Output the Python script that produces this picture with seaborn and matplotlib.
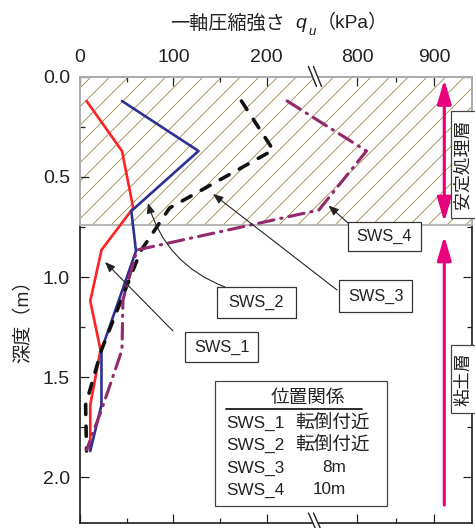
import numpy as np
import matplotlib
matplotlib.use("Agg")
import matplotlib.pyplot as plt
import matplotlib.transforms as mtransforms
from matplotlib.patches import Rectangle, FancyArrowPatch, Polygon
from matplotlib.lines import Line2D
import seaborn as sns

# ---------------- data ----------------
depth_sws1 = [0.12, 0.37, 0.655, 0.865, 1.12, 1.365, 1.64, 1.865]
qu_sws1 = [7, 45, 57, 23, 11, 22, 11, 11]
depth_sws2 = [0.12, 0.37, 0.67, 0.87, 1.365, 1.64, 1.87]
qu_sws2 = [45, 127, 55, 60, 23, 23, 11]
depth_sws3 = [0.12, 0.365, 0.655, 0.87, 1.365, 1.64, 1.87]
qu_sws3 = [173, 207, 96, 65, 23, 6, 7]
depth_sws4 = [0.12, 0.37, 0.665, 0.865, 1.115, 1.365, 1.665, 1.865]
qu_sws4 = [222, 812, 750, 61, 46, 45, 23, 7]

x_major = [0, 100, 200, 800, 900]
x_minor = [50, 150, 850]
x_labels = ["0", "100", "200", "800", "900"]
y_major = [0.0, 0.5, 1.0, 1.5, 2.0]
y_minor = [0.25, 0.75, 1.25, 1.75]
layer_bottom = 0.74

legend_rows = [("SWS_1", "転倒付近"), ("SWS_2", "転倒付近"), ("SWS_3", "8m"), ("SWS_4", "10m")]

# ---------------- style ----------------
sns.set_style("ticks")
FAM = ["Liberation Sans", "Noto Sans CJK JP"]
plt.rcParams["font.family"] = FAM
plt.rcParams["hatch.linewidth"] = 0.6
plt.rcParams["lines.scale_dashes"] = False
TXT = "#222222"

DPI = 112
W, H = 475, 528
fig = plt.figure(figsize=(W / DPI, H / DPI), dpi=DPI)
fig.patch.set_facecolor("white")


def F(px, py):
    return (px / W, 1 - py / H)


ax = fig.add_axes([80 / W, 1 - 523 / H, (472.3 - 80) / W, (523 - 77) / H])
ax.set_facecolor("white")

# broken x scale
L, R, GAP, RATIO = 250.0, 750.0, 6.0, 0.822


def fwd(q):
    q = np.asarray(q, dtype=float)
    return np.where(q <= L, q,
                    np.where(q >= R, L + GAP + (q - R) * RATIO,
                             L + (q - L) * GAP / (R - L)))


def inv(u):
    u = np.asarray(u, dtype=float)
    return np.where(u <= L, u,
                    np.where(u >= L + GAP, R + (u - L - GAP) / RATIO,
                             L + (u - L) * (R - L) / GAP))


ax.set_xscale("function", functions=(fwd, inv))
ax.set_xlim(0, 950)
ax.set_ylim(2.23, 0)

# hatched stabilised layer
blend = mtransforms.blended_transform_factory(ax.transAxes, ax.transData)
ax.add_patch(Rectangle((0, 0), 1, layer_bottom, transform=blend, facecolor="none",
                       edgecolor="#a8925a", hatch="//", lw=0, zorder=0.5))
ax.add_patch(Rectangle((0, 0), 1, layer_bottom, transform=blend, facecolor="none",
                       edgecolor="#b4b4b4", lw=1.2, zorder=2.6, clip_on=False))

# lines
sns.lineplot(x=qu_sws1, y=depth_sws1, sort=False, estimator=None, ax=ax,
             color="#ff2222", linewidth=1.7, zorder=4)
sns.lineplot(x=qu_sws2, y=depth_sws2, sort=False, estimator=None, ax=ax,
             color="#2e3192", linewidth=1.7, zorder=4)
sns.lineplot(x=qu_sws3, y=depth_sws3, sort=False, estimator=None, ax=ax,
             color="#111111", linewidth=2.3, zorder=5,
             linestyle=(0, (6.5, 7.5)), dash_capstyle="round")
sns.lineplot(x=qu_sws4, y=depth_sws4, sort=False, estimator=None, ax=ax,
             color="#922a6b", linewidth=2.0, zorder=5,
             linestyle=(0, (10, 4.5, 0.8, 4.5)), dash_capstyle="round")

# ticks
ax.set_xticks(x_major)
ax.set_xticklabels(x_labels)
ax.set_xticks(x_minor, minor=True)
ax.set_yticks(y_major)
ax.set_yticklabels([f"{v:.1f}" for v in y_major])
ax.set_yticks(y_minor, minor=True)
ax.tick_params(axis="both", which="both", direction="in", top=True, bottom=True,
               left=True, right=True, labeltop=True, labelbottom=False,
               colors="#222222", width=0.8)
ax.tick_params(axis="both", which="major", length=5.8)
ax.tick_params(axis="both", which="minor", length=3.2)
ax.tick_params(axis="x", which="major", labelsize=12.5, pad=7)
ax.tick_params(axis="y", which="major", labelsize=12.5, pad=6.4)
for lab in ax.get_xticklabels() + ax.get_yticklabels():
    lab.set_color(TXT)
for s in ax.spines.values():
    s.set_linewidth(1.1)
    s.set_color("#222222")
ax.set_xlabel("")
ax.set_ylabel("")

# break marks
for (y0, y1) in [(66.5, 86.5), (513, 531)]:
    poly = Polygon([F(308.5, y0), F(313.5, y0), F(321.5, y1), F(316.5, y1)],
                   closed=True, transform=fig.transFigure, facecolor="white",
                   edgecolor="none", zorder=10)
    fig.add_artist(poly)
    for dx in (0, 5):
        fig.add_artist(Line2D([F(308.5 + dx, y0)[0], F(316.5 + dx, y1)[0]],
                              [F(308.5 + dx, y0)[1], F(316.5 + dx, y1)[1]],
                              transform=fig.transFigure, color="#222222", lw=0.9, zorder=11))

# axis titles
fig.text(*F(170, 28.5), "一軸圧縮強さ", fontsize=12.3, color=TXT, ha="left", va="baseline",
         family=FAM)
fig.text(*F(295, 28.5), "q", fontsize=12.5, style="italic", color=TXT, ha="left",
         va="baseline", family=FAM)
fig.text(*F(308.5, 35), "u", fontsize=8.5, style="italic", color=TXT, ha="left",
         va="baseline", family=FAM)
fig.text(*F(316.5, 28.5), "（kPa）", fontsize=12.3, color=TXT, ha="left", va="baseline",
         family=FAM)
fig.text(*F(23, 317), "深度（m）", fontsize=12.3, color=TXT, ha="center", va="center",
         rotation=90, family=FAM)

# magenta layer arrows
MAG = "#e8007d"
fig.add_artist(FancyArrowPatch(F(444.3, 79.5), F(444.3, 222), transform=fig.transFigure,
                               arrowstyle="<|-|>,head_length=13,head_width=3.8",
                               mutation_scale=1, color=MAG, lw=2.0, shrinkA=0, shrinkB=0,
                               zorder=8))
fig.add_artist(FancyArrowPatch(F(444.3, 505), F(444.3, 236), transform=fig.transFigure,
                               arrowstyle="-|>,head_length=13,head_width=3.8",
                               mutation_scale=1, color=MAG, lw=2.0, shrinkA=0, shrinkB=0,
                               zorder=8))

# layer name boxes
for (x0, y0, x1, y1, txt) in [(450.7, 111, 480, 218, "安定処理層"), (450.7, 345, 480, 413, "粘土層")]:
    fig.add_artist(Rectangle(F(x0, y1), (x1 - x0) / W, (y1 - y0) / H, transform=fig.transFigure,
                             facecolor="white", edgecolor="#444444", lw=0.8, zorder=9))
    fig.text(*F(463.5, (y0 + y1) / 2), txt, fontsize=11.5, color=TXT, ha="center",
             va="center", rotation=90, family=FAM, zorder=10)

# SWS label boxes + leaders
boxes = [
    ("SWS_1", 185, 331.7, 258, 361.7),
    ("SWS_2", 216.7, 286.7, 296, 318),
    ("SWS_3", 339.3, 280, 412, 312),
    ("SWS_4", 348.3, 221.7, 420.7, 250.7),
]
for (txt, x0, y0, x1, y1) in boxes:
    fig.add_artist(Rectangle(F(x0, y1), (x1 - x0) / W, (y1 - y0) / H, transform=fig.transFigure,
                             facecolor="white", edgecolor="#333333", lw=0.8, zorder=9))
    fig.text(*F((x0 + x1) / 2, (y0 + y1) / 2 + 0.5), txt, fontsize=10.5, color=TXT,
             ha="center", va="center", family=FAM, zorder=10)

leaders = [
    ((173, 331), (105, 262), "arc3,rad=0"),
    ((225, 287), (148, 203), "arc3,rad=-0.25"),
    ((337, 290), (213, 194), "arc3,rad=0"),
    ((348, 223), (328.5, 205.5), "arc3,rad=0"),
]
for (a, b, cs) in leaders:
    fig.add_artist(FancyArrowPatch(F(*a), F(*b), transform=fig.transFigure,
                                   arrowstyle="-|>,head_length=5.5,head_width=2.2",
                                   mutation_scale=1, connectionstyle=cs, color="#222222",
                                   lw=0.7, shrinkA=0, shrinkB=0, zorder=8))

# legend box
fig.add_artist(Rectangle(F(215, 506), (387 - 215) / W, (506 - 381) / H, transform=fig.transFigure,
                         facecolor="white", edgecolor="#444444", lw=0.8, zorder=9))
fig.text(*F(307.5, 398), "位置関係", fontsize=12, color=TXT, ha="center", va="center",
         family=FAM, zorder=10)
fig.add_artist(Line2D([F(226, 408.5)[0], F(362, 408.5)[0]], [F(226, 408.5)[1]] * 2,
                      transform=fig.transFigure, color="#222222", lw=1.2, zorder=10))
row_y = [423, 445, 468, 490]
for (name, desc), yy in zip(legend_rows, row_y):
    fig.text(*F(226, yy), name, fontsize=11, color=TXT, ha="left", va="center",
             family=FAM, zorder=10)
    if desc.endswith("m"):
        fig.text(*F(346, yy), desc, fontsize=11, color=TXT, ha="right", va="center",
                 family=FAM, zorder=10)
    else:
        fig.text(*F(295.5, yy), desc, fontsize=12, color=TXT, ha="left", va="center",
                 family=FAM, zorder=10)

fig.savefig("out.png", dpi=DPI)
